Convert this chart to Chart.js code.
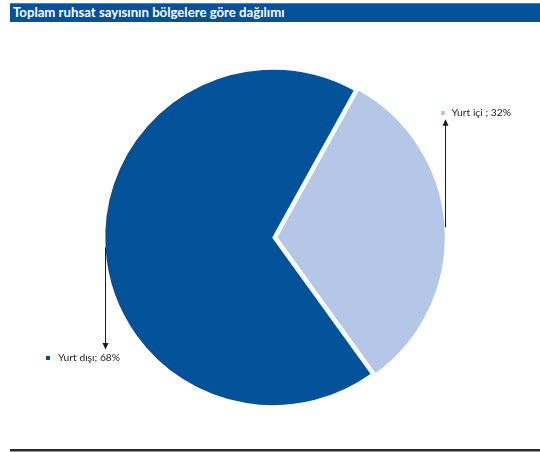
<!DOCTYPE html>
<html>
<head>
<meta charset="utf-8">
<script src="https://cdn.jsdelivr.net/npm/chart.js@4/dist/chart.umd.min.js"></script>
<style>
  html, body { margin: 0; padding: 0; background: #ffffff; }
  body { width: 540px; height: 452px; position: relative; overflow: hidden; }
  #title {
    position: absolute; left: 10px; top: 3px; width: 530px; height: 19px;
    background: #02529a; border-top: 1px solid #4f7fb5; box-sizing: border-box;
    color: #ffffff; font: bold 13.2px Lato, "Liberation Sans", sans-serif;
    line-height: 17px; padding-left: 3px; white-space: nowrap;
  }
  #rule {
    position: absolute; left: 10px; top: 449px; width: 530px; height: 0;
    border-top: 2px solid #2b2b2b; border-bottom: 1px solid #9a9a9a;
  }
  #wrap { position: absolute; left: 0; top: 0; width: 540px; height: 452px; }
</style>
</head>
<body>
<div id="wrap"><canvas id="pie" width="540" height="452"></canvas></div>
<div id="title">Toplam ruhsat sayısının bölgelere göre dağılımı</div>
<div id="rule"></div>
<script>
// Share of total permits by region (%)
const regions = ['Yurt içi', 'Yurt dışı'];
const shares = [32, 68];
const labelTexts = ['Yurt içi ; 32%', 'Yurt dışı; 68%'];
const sliceColors = ['#b4c7e7', '#02529a'];

// Leader-line callouts: vertical arrow from the slice's outer mid point
const callouts = [
  { dir: -1, length: 108, markerDx: -5, textDx: 6, textDy: -6.5 },
  { dir: 1, length: 102, markerDx: -60, textDx: -47.5, textDy: 8.5 }
];

// Same displacement the arc element applies for its `offset` option
function arcShift(arc) {
  const off = (arc.options.offset || 0) / 4;
  const circ = arc.endAngle - arc.startAngle;
  const fix = 1 - Math.sin(Math.min(Math.PI, circ || 0));
  return off + off * fix;
}

const calloutPlugin = {
  id: 'callouts',
  afterDatasetsDraw(chart) {
    const ctx = chart.ctx;
    const meta = chart.getDatasetMeta(0);
    meta.data.forEach((arc, i) => {
      const p = arc.getProps(['x', 'y', 'startAngle', 'endAngle', 'outerRadius'], true);
      const mid = (p.startAngle + p.endAngle) / 2;
      const shift = arcShift(arc);
      const cx = p.x + Math.cos(mid) * shift;
      const cy = p.y + Math.sin(mid) * shift;
      const sx = Math.round(cx + Math.cos(mid) * p.outerRadius) + 0.5;
      const sy = cy + Math.sin(mid) * p.outerRadius;
      const c = callouts[i];
      const ty = sy + c.dir * c.length;
      ctx.save();
      ctx.strokeStyle = '#1a1a1a';
      ctx.fillStyle = '#1a1a1a';
      ctx.lineWidth = 1;
      ctx.beginPath();
      ctx.moveTo(sx, sy);
      ctx.lineTo(sx, ty - c.dir * 5);
      ctx.stroke();
      ctx.beginPath();
      ctx.moveTo(sx, ty);
      ctx.lineTo(sx - 3, ty - c.dir * 6.5);
      ctx.lineTo(sx + 3, ty - c.dir * 6.5);
      ctx.closePath();
      ctx.fill();
      // legend key + label
      const ly = ty + c.textDy;
      ctx.fillStyle = sliceColors[i];
      ctx.fillRect(Math.round(sx + c.markerDx), Math.round(ly - 2), 4, 4);
      ctx.fillStyle = '#262626';
      ctx.font = '10.3px Lato, "Liberation Sans", sans-serif';
      ctx.textBaseline = 'middle';
      ctx.textAlign = 'left';
      ctx.fillText(labelTexts[i], sx + c.textDx, ly);
      ctx.restore();
    });
  }
};

new Chart(document.getElementById('pie'), {
  type: 'pie',
  data: {
    labels: regions,
    datasets: [{
      data: shares,
      backgroundColor: sliceColors,
      borderColor: '#ffffff',
      borderWidth: 1.5,
      offset: [14.6, 0],
      radius: 168.5
    }]
  },
  options: {
    responsive: false,
    animation: false,
    rotation: 29,
    layout: { padding: { left: 66, right: 60, top: 40, bottom: 17 } },
    plugins: {
      legend: { display: false },
      tooltip: { enabled: false },
      title: { display: false }
    }
  },
  plugins: [calloutPlugin]
});
</script>
</body>
</html>
